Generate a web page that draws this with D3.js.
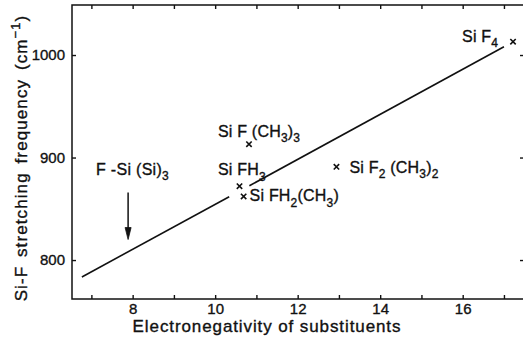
<!DOCTYPE html>
<html>
<head>
<meta charset="utf-8">
<script src="https://cdn.jsdelivr.net/npm/d3@7"></script>
<style>
  html, body { margin: 0; padding: 0; background: #fff; }
  svg { display: block; }
  text { font-family: "Liberation Sans", Arial, Helvetica, sans-serif; fill: #111; stroke: #111; stroke-width: 0.35px; }
</style>
</head>
<body>
<svg id="chart" width="523" height="347"></svg>
<script>
// Measured compounds: electronegativity sum of substituents vs. Si-F stretch
const compounds = ["Si F_4", "Si F (CH_3)_3", "Si F_2 (CH_3)_2", "Si FH_3", "Si FH_2(CH_3)"];
const electronegativity = [17.22, 10.82, 12.94, 10.59, 10.69];
const frequency = [1013, 913, 891, 872, 862];

// Correlation line, drawn in two pieces (broken around the SiFH3 markers)
const fitX = [[6.77, 10.34], [10.83, 17.0]];
const fitY = [[783.5, 861.8], [872.5, 1008]];

// Predicted position of the F-Si(Si)3 group
const arrowLabel = "F -Si (Si)_3";
const arrowX = 7.89;
const arrowFrom = 866;
const arrowTo = 820;

// Axis ticks
const xTicks = [7, 8, 9, 10, 11, 12, 13, 14, 15, 16, 17];
const xTickLabels = [8, 10, 12, 14, 16];
const yTicks = [800, 900, 1000];

const xTitle = "Electronegativity of substituents";
const yTitle = "Si-F stretching frequency (cm^-1)";

// ---------------------------------------------------------------
const svg = d3.select("#chart");
const plot = { left: 72, right: 524, top: 5, bottom: 299 };

const x = d3.scaleLinear().domain([6.53, 17.486]).range([plot.left, plot.right]);
const y = d3.scaleLinear().domain([762, 1048.8]).range([plot.bottom, plot.top]);

const ink = "#111";

// frame
svg.append("rect")
  .attr("x", plot.left).attr("y", plot.top)
  .attr("width", plot.right - plot.left).attr("height", plot.bottom - plot.top)
  .attr("fill", "none").attr("stroke", ink).attr("stroke-width", 1.5);

function styleAxis(g) {
  g.select(".domain").remove();
  g.selectAll(".tick line").attr("stroke", ink).attr("stroke-width", 1.4);
  g.selectAll(".tick text")
    .attr("fill", ink)
    .style("font-family", "'Liberation Sans', Arial, sans-serif")
    .style("font-size", "15px");
}

// bottom axis (inward ticks, every integer; labels on even values)
svg.append("g")
  .attr("transform", `translate(0,${plot.bottom})`)
  .call(d3.axisBottom(x).tickValues(xTicks).tickSizeInner(-4).tickSizeOuter(0).tickPadding(4)
    .tickFormat(d => xTickLabels.includes(d) ? d : ""))
  .call(styleAxis);

// top axis, ticks only
svg.append("g")
  .attr("transform", `translate(0,${plot.top})`)
  .call(d3.axisTop(x).tickValues(xTicks).tickSizeInner(-4).tickSizeOuter(0).tickFormat(""))
  .call(styleAxis);

// left axis
svg.append("g")
  .attr("transform", `translate(${plot.left},0)`)
  .call(d3.axisLeft(y).tickValues(yTicks).tickSizeInner(-4).tickSizeOuter(0).tickPadding(7)
    .tickFormat(d3.format("d")))
  .call(styleAxis);

// right axis, ticks only
svg.append("g")
  .attr("transform", `translate(${plot.right},0)`)
  .call(d3.axisRight(y).tickValues(yTicks).tickSizeInner(-4).tickSizeOuter(0).tickFormat(""))
  .call(styleAxis);

// text with "_c" subscripts and "^..." superscript
function richText(sel, str, size) {
  const sub = Math.round(size * 0.75);
  const re = /(_[^_\s(^)]|\^-?\d+)/g;
  let last = 0, m;
  const parts = [];
  while ((m = re.exec(str)) !== null) {
    if (m.index > last) parts.push({ t: str.slice(last, m.index), k: "n" });
    if (m[0][0] === "_") parts.push({ t: m[0].slice(1), k: "sub" });
    else parts.push({ t: m[0].slice(1).replace("-", "\u2212"), k: "sup" });
    last = m.index + m[0].length;
  }
  if (last < str.length) parts.push({ t: str.slice(last), k: "n" });
  let shift = 0;
  parts.forEach(p => {
    const ts = sel.append("tspan").text(p.t);
    let target = 0;
    if (p.k === "sub") { target = size * 0.33; ts.style("font-size", sub + "px"); }
    if (p.k === "sup") { target = -size * 0.42; ts.style("font-size", sub + "px"); }
    if (target !== shift) ts.attr("dy", target - shift);
    shift = target;
  });
}

// axis titles
const xt = svg.append("text")
  .attr("x", 267).attr("y", 332)
  .attr("text-anchor", "middle")
  .style("font-size", "17px")
  .style("letter-spacing", "0.9px");
richText(xt, xTitle, 17);

const yt = svg.append("text")
  .attr("transform", "translate(27,158) rotate(-90)")
  .attr("text-anchor", "middle")
  .style("font-size", "17px")
  .style("letter-spacing", "1.1px")
  .style("word-spacing", "3px");
richText(yt, yTitle, 17);

// fitted line
const line = d3.line().x(d => x(d[0])).y(d => y(d[1]));
fitX.forEach((xs, i) => {
  svg.append("path")
    .datum(xs.map((v, j) => [v, fitY[i][j]]))
    .attr("d", line)
    .attr("fill", "none").attr("stroke", ink).attr("stroke-width", 1.6);
});

// data markers (small crosses)
const pts = compounds.map((c, i) => ({ c, x: electronegativity[i], f: frequency[i] }));
const r = 2.7;
svg.append("g").selectAll("path.mk").data(pts).join("path")
  .attr("class", "mk")
  .attr("d", d => {
    const cx = x(d.x), cy = y(d.f);
    return `M${cx - r},${cy - r}L${cx + r},${cy + r}M${cx - r},${cy + r}L${cx + r},${cy - r}`;
  })
  .attr("stroke", ink).attr("stroke-width", 1.6).attr("fill", "none");

// label offsets from each marker (px)
const labelOffset = [[-51, 0], [-31, -7], [13, 6], [-21.6, -11], [6, 5]];
pts.forEach((d, i) => {
  const t = svg.append("text")
    .attr("x", x(d.x) + labelOffset[i][0])
    .attr("y", y(d.f) + labelOffset[i][1])
    .style("font-size", "16px")
    .style("letter-spacing", "0.2px");
  richText(t, d.c, 16);
});

// arrow for F-Si(Si)3
const ax = x(arrowX);
svg.append("line")
  .attr("x1", ax).attr("x2", ax)
  .attr("y1", y(arrowFrom)).attr("y2", y(arrowTo) - 8)
  .attr("stroke", ink).attr("stroke-width", 1.5);
svg.append("path")
  .attr("d", `M${ax - 3},${y(arrowTo) - 12}L${ax},${y(arrowTo)}L${ax + 3},${y(arrowTo) - 12}Z`)
  .attr("fill", ink).attr("stroke", ink).attr("stroke-width", 0.8);

const at = svg.append("text")
  .attr("x", 96).attr("y", 175)
  .style("font-size", "16px")
  .style("letter-spacing", "0.3px");
richText(at, arrowLabel, 16);
</script>
</body>
</html>
